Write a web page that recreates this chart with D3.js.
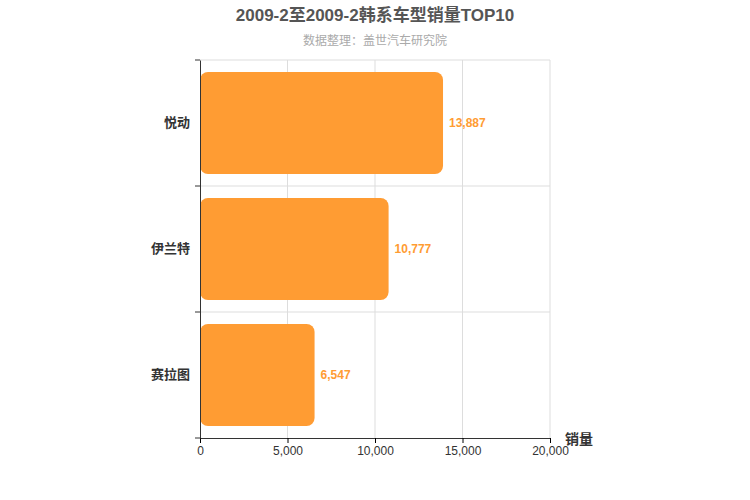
<!DOCTYPE html>
<html><head><meta charset="utf-8">
<script src="https://cdn.jsdelivr.net/npm/d3@7/dist/d3.min.js"></script>
<style>body{margin:0;background:#fff}text{font-family:"Liberation Sans",Arial,"Noto Sans CJK SC",sans-serif}</style>
</head><body><svg id="c" width="750" height="500"></svg>
<script>
const categories=["悦动","伊兰特","赛拉图"];
const values=[13887,10777,6547];
const xTicks=[0,5000,10000,15000,20000];
const title="2009-2至2009-2韩系车型销量TOP10";
const subtitle="数据整理：盖世汽车研究院";
const svg=d3.select("#c");
const L=200,R=550,T=60,B=438;
const x=d3.scaleLinear().domain([0,20000]).range([L,R]);
const y=d3.scaleBand().domain(categories).range([T,B]).paddingInner(0.19).paddingOuter(0.095);
const yb=d3.scaleBand().domain(categories).range([T,B]);
svg.append("text").attr("x",375).attr("y",21).attr("text-anchor","middle").attr("font-size",17).attr("font-weight","bold").attr("fill","#555").text(title);
svg.append("text").attr("x",375).attr("y",45).attr("text-anchor","middle").attr("font-size",12).attr("fill","#aaa").text(subtitle);
// grid
svg.append("g").selectAll("line").data(xTicks.slice(1)).join("line").attr("x1",d=>x(d)).attr("x2",d=>x(d)).attr("y1",T).attr("y2",B).attr("stroke","#ddd");
svg.append("g").selectAll("line").data(categories).join("line").attr("x1",L).attr("x2",R).attr("y1",d=>yb(d)).attr("y2",d=>yb(d)).attr("stroke","#ddd");
// bars
svg.append("g").selectAll("rect").data(values).join("rect").attr("x",L).attr("y",(d,i)=>y(categories[i])).attr("width",d=>x(d)-L).attr("height",y.bandwidth()).attr("rx",8).attr("fill","#ff9c33");
svg.append("g").selectAll("text").data(values).join("text").attr("x",d=>x(d)+6).attr("y",(d,i)=>y(categories[i])+y.bandwidth()/2+4).attr("font-size",12).attr("font-weight","bold").attr("fill","#ff9c33").text(d=>d3.format(",")(d));
// axes
const xa=svg.append("g").attr("transform",`translate(0,${B})`).call(d3.axisBottom(x).tickValues(xTicks).tickFormat(d3.format(",")).tickSize(5));
xa.select(".domain").attr("stroke","#333");xa.selectAll("text").attr("font-size",12).attr("fill","#333");
const ya=svg.append("g").attr("transform",`translate(${L},0)`).call(d3.axisLeft(yb).tickSize(0).tickPadding(10));
ya.select(".domain").attr("stroke","#333");ya.selectAll("text").attr("font-size",13).attr("font-weight","bold").attr("fill","#333");
svg.append("g").selectAll("line").data(categories.concat([null])).join("line").attr("x1",L-5).attr("x2",L).attr("y1",(d,i)=>T+i*yb.step()).attr("y2",(d,i)=>T+i*yb.step()).attr("stroke","#333");
svg.append("text").attr("x",565).attr("y",444).attr("font-size",14).attr("font-weight","bold").attr("fill","#333").text("销量");
</script></body></html>
